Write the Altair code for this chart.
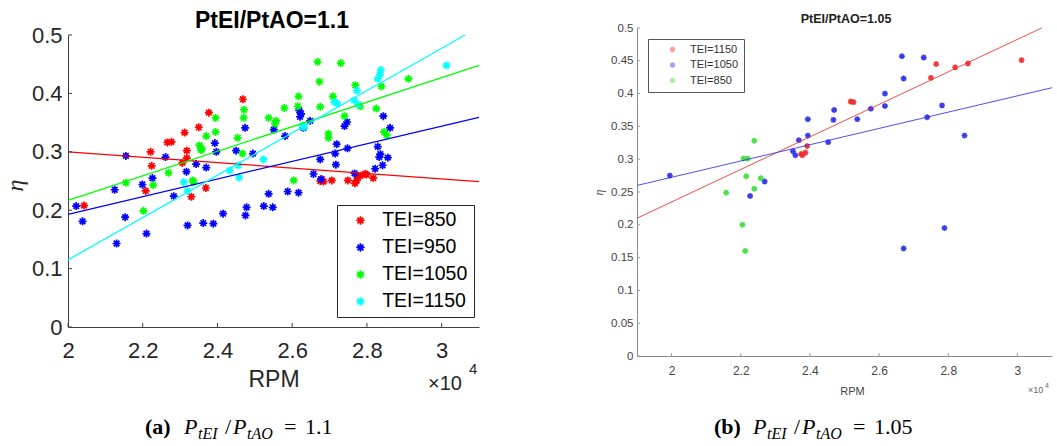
import altair as alt
import pandas as pd

FONT = "Liberation Sans"
SERIF = "Liberation Serif"
ASTER = "M-1,0L1,0M0,-1L0,1M-0.7,-0.7L0.7,0.7M-0.7,0.7L0.7,-0.7"

# ---------------- Panel (a): PtEI/PtAO = 1.1  (RPM in units of 1e4) ----------------
a_labels = ["TEI=850", "TEI=950", "TEI=1050", "TEI=1150"]
a_colors = ["#ff0000", "#0000ff", "#00ff00", "#00ffff"]

a850_rpm = [2.043, 2.208, 2.224, 2.221, 2.266, 2.277, 2.306, 2.312, 2.318, 2.318, 2.330, 2.350, 2.369, 2.377, 2.468,
            2.675, 2.679, 2.684, 2.706, 2.749, 2.768, 2.773, 2.775, 2.783, 2.795, 2.799, 2.817]
a850_eta = [0.208, 0.233, 0.276, 0.300, 0.316, 0.317, 0.281, 0.333, 0.302, 0.289, 0.223, 0.342, 0.238, 0.367, 0.390,
            0.250, 0.253, 0.249, 0.251, 0.251, 0.246, 0.251, 0.258, 0.259, 0.262, 0.261, 0.255]

a950_rpm = [2.022, 2.039, 2.125, 2.130, 2.153, 2.155, 2.199, 2.210, 2.226, 2.261, 2.283, 2.317, 2.320, 2.343, 2.362,
            2.370, 2.389, 2.393, 2.397, 2.415, 2.450, 2.474, 2.475, 2.478, 2.495, 2.524, 2.537, 2.548, 2.551, 2.581,
            2.588, 2.617, 2.619, 2.624, 2.621, 2.630, 2.648, 2.657, 2.675, 2.677, 2.715, 2.717, 2.719, 2.740, 2.747,
            2.748, 2.767, 2.822, 2.829, 2.833, 2.836, 2.842, 2.844, 2.856, 2.862]
a950_eta = [0.207, 0.181, 0.235, 0.143, 0.188, 0.293, 0.244, 0.160, 0.255, 0.291, 0.224, 0.266, 0.174, 0.279, 0.178,
            0.273, 0.177, 0.315, 0.300, 0.194, 0.302, 0.341, 0.191, 0.205, 0.297, 0.207, 0.228, 0.205, 0.338, 0.327,
            0.232, 0.230, 0.371, 0.365, 0.360, 0.341, 0.353, 0.262, 0.287, 0.253, 0.297, 0.278, 0.313, 0.344, 0.351,
            0.306, 0.263, 0.271, 0.309, 0.291, 0.296, 0.277, 0.361, 0.290, 0.341]

a1050_rpm = [2.155, 2.202, 2.228, 2.269, 2.334, 2.336, 2.352, 2.356, 2.358, 2.370, 2.395, 2.395, 2.454, 2.467, 2.470,
             2.471, 2.537, 2.554, 2.557, 2.579, 2.604, 2.615, 2.617, 2.668, 2.673, 2.675, 2.697, 2.697, 2.709, 2.730,
             2.740, 2.769, 2.782, 2.825, 2.839, 2.846, 2.853, 2.911]
a1050_eta = [0.247, 0.199, 0.243, 0.264, 0.251, 0.248, 0.311, 0.303, 0.305, 0.327, 0.334, 0.358, 0.324, 0.297, 0.358,
             0.372, 0.358, 0.348, 0.353, 0.375, 0.251, 0.378, 0.395, 0.454, 0.420, 0.377, 0.331, 0.324, 0.395, 0.452,
             0.361, 0.414, 0.378, 0.374, 0.412, 0.334, 0.328, 0.425]

a1150_rpm = [2.310, 2.320, 2.433, 2.456, 2.458, 2.523, 2.628, 2.632, 2.713, 2.720, 2.766, 2.773, 2.777, 2.829, 2.835,
             2.837, 3.013]
a1150_eta = [0.248, 0.233, 0.268, 0.277, 0.256, 0.287, 0.345, 0.342, 0.385, 0.383, 0.388, 0.405, 0.381, 0.425, 0.432,
             0.440, 0.448]

# fitted lines (end points)
a_fit_tei = ["TEI=850", "TEI=950", "TEI=1050", "TEI=1150"]
a_fit_x0 = [2.0, 2.0, 2.0, 2.0]
a_fit_y0 = [0.300, 0.193, 0.217, 0.115]
a_fit_x1 = [3.1, 3.1, 3.1, 3.063]
a_fit_y1 = [0.249, 0.359, 0.448, 0.500]

a_xticks = [2.0, 2.2, 2.4, 2.6, 2.8, 3.0]
a_yticks = [0.0, 0.1, 0.2, 0.3, 0.4, 0.5]

# ---------------- Panel (b): PtEI/PtAO = 1.05 ----------------
b_labels = ["TEI=1150", "TEI=1050", "TEI=850"]
b_colors = ["#ee2e2e", "#3030ee", "#3fe03f"]

b1150_rpm = [2.375, 2.378, 2.387, 2.392, 2.518, 2.526, 2.750, 2.765, 2.820, 2.857, 3.012]
b1150_eta = [0.308, 0.306, 0.310, 0.320, 0.388, 0.387, 0.424, 0.445, 0.440, 0.446, 0.451]

b1050_rpm = [1.995, 2.227, 2.269, 2.351, 2.358, 2.368, 2.394, 2.394, 2.453, 2.468, 2.470, 2.537, 2.576, 2.617, 2.617,
             2.666, 2.671, 2.671, 2.729, 2.739, 2.782, 2.789, 2.847]
b1050_eta = [0.275, 0.244, 0.266, 0.312, 0.306, 0.329, 0.336, 0.361, 0.326, 0.360, 0.375, 0.361, 0.377, 0.381, 0.400,
             0.457, 0.423, 0.164, 0.455, 0.364, 0.382, 0.195, 0.336]

b850_rpm = [2.158, 2.205, 2.208, 2.213, 2.216, 2.220, 2.239, 2.239, 2.258]
b850_eta = [0.249, 0.200, 0.301, 0.160, 0.274, 0.301, 0.328, 0.255, 0.271]

b_fit_tei = ["TEI=1150", "TEI=1050"]
b_fit_x0 = [1.9, 1.9]
b_fit_y0 = [0.210, 0.260]
b_fit_x1 = [3.07, 3.1]
b_fit_y1 = [0.500, 0.409]

b_xticks = [2.0, 2.2, 2.4, 2.6, 2.8, 3.0]
b_yticks = [0.0, 0.05, 0.1, 0.15, 0.2, 0.25, 0.3, 0.35, 0.4, 0.45, 0.5]


def series_frame(parts):
    return pd.concat([pd.DataFrame({"rpm": r, "eta": e, "tei": lab}) for lab, r, e in parts], ignore_index=True)


a_df = series_frame([("TEI=850", a850_rpm, a850_eta), ("TEI=950", a950_rpm, a950_eta),
                     ("TEI=1050", a1050_rpm, a1050_eta), ("TEI=1150", a1150_rpm, a1150_eta)])
b_df = series_frame([("TEI=1150", b1150_rpm, b1150_eta), ("TEI=1050", b1050_rpm, b1050_eta),
                     ("TEI=850", b850_rpm, b850_eta)])
a_fit = pd.DataFrame({"tei": a_fit_tei, "rpm": a_fit_x0, "eta": a_fit_y0, "rpm2": a_fit_x1, "eta2": a_fit_y1})
b_fit = pd.DataFrame({"tei": b_fit_tei, "rpm": b_fit_x0, "eta": b_fit_y0, "rpm2": b_fit_x1, "eta2": b_fit_y1})
ONE = pd.DataFrame({"k": [0]})


def txt(s, x, y, size, style="normal", weight="normal", font=SERIF, align="left", color="black"):
    return alt.Chart(ONE).mark_text(text=s, font=font, fontSize=size, fontStyle=style, fontWeight=weight,
                                    align=align, baseline="alphabetic", color=color).encode(
        x=alt.value(x), y=alt.value(y))


def caption(tag, value):
    # LaTeX-like subfigure caption: (tag) P_tEI / P_tAO = value
    return [
        txt(tag, 77, 406, 22, weight="bold"),
        txt("P", 116, 406, 22, style="italic"),
        txt("tEI", 130, 411, 16, style="italic"),
        txt("/", 157, 406, 22),
        txt("P", 165, 406, 22, style="italic"),
        txt("tAO", 179, 411, 16, style="italic"),
        txt("=", 216, 406, 22),
        txt(value, 237, 406, 22),
    ]


# ================= Panel (a) =================
WA, HA = 411, 299
a_xs = alt.Scale(domain=[2, 3.1], nice=False, zero=False)
a_ys = alt.Scale(domain=[0, 0.5], range=[HA, 7], nice=False, zero=False)
a_xaxis = alt.Axis(values=a_xticks, format="~g", title="RPM", titleFont=FONT, titleFontSize=23,
                   titleFontWeight="normal", titleColor="#262626", titleY=41, titleBaseline="top",
                   labelFont=FONT, labelFontSize=22, labelColor="#262626", labelPadding=13, labelFlush=False,
                   labelOverlap=False, ticks=False, tickSize=0, domainColor="#404040", grid=False)
a_yaxis = alt.Axis(values=a_yticks, format="~g", title="η", titleFont=SERIF, titleFontStyle="italic",
                   titleFontWeight="normal", titleFontSize=24, titleColor="#262626", titleAngle=270,
                   titleX=-53, titleY=157, titleAlign="center", titleBaseline="middle",
                   labelFont=FONT, labelFontSize=22, labelColor="#262626", labelPadding=6, labelOverlap=False,
                   ticks=False, tickSize=0, domainColor="#404040", grid=False)
a_X = lambda f: alt.X(f, scale=a_xs, axis=a_xaxis)
a_Y = lambda f: alt.Y(f, scale=a_ys, axis=a_yaxis)
a_color = alt.Color("tei:N", scale=alt.Scale(domain=a_labels, range=a_colors),
                    legend=alt.Legend(title=None, orient="none", legendX=269, legendY=177, direction="vertical",
                                      padding=5.7, rowPadding=6, symbolType=ASTER, symbolSize=70,
                                      symbolStrokeWidth=1.8, symbolOffset=8, labelOffset=12,
                                      labelFont=FONT, labelFontSize=19.5, labelColor="black",
                                      strokeColor="#262626", fillColor="white"))

a_pts = alt.Chart(a_df).mark_point(shape=ASTER, filled=False, size=64, strokeWidth=1.7, opacity=1).encode(
    x=a_X("rpm:Q"), y=a_Y("eta:Q"), color=a_color)
a_lines = alt.Chart(a_fit).mark_rule(strokeWidth=1.3).encode(
    x=a_X("rpm:Q"), y=a_Y("eta:Q"), x2="rpm2:Q", y2="eta2:Q", color=a_color)
a_xt = alt.Chart(pd.DataFrame({"rpm": a_xticks})).mark_rule(color="#404040").encode(
    x=a_X("rpm:Q"), y=alt.value(HA), y2=alt.value(HA - 4))
a_yt = alt.Chart(pd.DataFrame({"eta": a_yticks})).mark_rule(color="#404040").encode(
    y=a_Y("eta:Q"), x=alt.value(0), x2=alt.value(4))

a_texts = [
    txt("PtEI/PtAO=1.1", 204, 0, 23, weight="bold", font=FONT, align="center"),
    txt("×10", 360, 362, 20, font=FONT, color="#262626"),
    txt("4", 401, 346, 15, font=FONT, color="#262626"),
] + caption("(a)", "1.1")

panel_a = alt.layer(a_pts, a_lines, a_xt, a_yt, *a_texts).properties(width=WA, height=HA)

# ================= Panel (b) =================
WB, HB = 415, 328
b_xs = alt.Scale(domain=[1.9, 3.1], nice=False, zero=False)
b_ys = alt.Scale(domain=[0, 0.5], nice=False, zero=False)
b_xaxis = alt.Axis(values=b_xticks, format="~g", title="RPM", titleFont=FONT, titleFontSize=11,
                   titleFontWeight="normal", titleColor="#444444", titleX=215, titleY=35, titleBaseline="middle",
                   labelFont=FONT, labelFontSize=12, labelColor="#444444", labelPadding=9, labelFlush=False,
                   labelOverlap=False, ticks=False, tickSize=0, domainColor="#8a8a8a", grid=False)
b_yaxis = alt.Axis(values=b_yticks, format="~g", title="η", titleFont=SERIF, titleFontStyle="italic",
                   titleFontWeight="normal", titleFontSize=12, titleColor="#555555", titleAngle=270,
                   titleX=-39, titleY=164, titleAlign="center", titleBaseline="middle",
                   labelFont=FONT, labelFontSize=11.5, labelColor="#444444", labelPadding=4, labelOverlap=False,
                   ticks=False, tickSize=0, domainColor="#8a8a8a", grid=False)
b_X = lambda f: alt.X(f, scale=b_xs, axis=b_xaxis)
b_Y = lambda f: alt.Y(f, scale=b_ys, axis=b_yaxis)
b_color = alt.Color("tei:N", scale=alt.Scale(domain=b_labels, range=b_colors),
                    legend=alt.Legend(title=None, orient="none", legendX=11, legendY=11, direction="vertical",
                                      padding=5, rowPadding=2.5, symbolType=ASTER, symbolSize=30,
                                      symbolStrokeWidth=1.6, symbolOffset=14, labelOffset=12,
                                      labelFont=FONT, labelFontSize=11, labelColor="#333333",
                                      strokeColor="#555555", fillColor="white"))

b_halo = alt.Chart(b_df).mark_circle(size=30, opacity=0.45).encode(
    x=b_X("rpm:Q"), y=b_Y("eta:Q"), color=b_color)
b_pts = alt.Chart(b_df).mark_point(shape=ASTER, filled=False, size=34, strokeWidth=1.4, opacity=0.9).encode(
    x=b_X("rpm:Q"), y=b_Y("eta:Q"), color=b_color)
b_lines = alt.Chart(b_fit).mark_rule(strokeWidth=1, opacity=0.85).encode(
    x=b_X("rpm:Q"), y=b_Y("eta:Q"), x2="rpm2:Q", y2="eta2:Q", color=b_color)
b_xt = alt.Chart(pd.DataFrame({"rpm": b_xticks})).mark_rule(color="#9a9a9a").encode(
    x=b_X("rpm:Q"), y=alt.value(HB), y2=alt.value(HB - 3))
b_yt = alt.Chart(pd.DataFrame({"eta": b_yticks})).mark_rule(color="#9a9a9a").encode(
    y=b_Y("eta:Q"), x=alt.value(0), x2=alt.value(3))

b_texts = [
    txt("PtEI/PtAO=1.05", 209, -5, 12.5, weight="bold", font=FONT, align="center", color="#222222"),
    txt("×10", 391, 365, 9, font=FONT, color="#666666"),
    txt("4", 408, 360, 7, font=FONT, color="#666666"),
] + caption("(b)", "1.05")

panel_b = alt.layer(b_halo, b_pts, b_lines, b_xt, b_yt, *b_texts).properties(width=WB, height=HB)

chart = alt.hconcat(panel_a, panel_b, spacing=158, bounds="flush").resolve_scale(
    color="independent").resolve_legend(color="independent").configure_view(strokeWidth=0).properties(
    padding={"left": 3, "top": 10, "right": 0, "bottom": 0}, background="white")

chart.save("out.html", embed_options={"renderer": "svg", "actions": False})
